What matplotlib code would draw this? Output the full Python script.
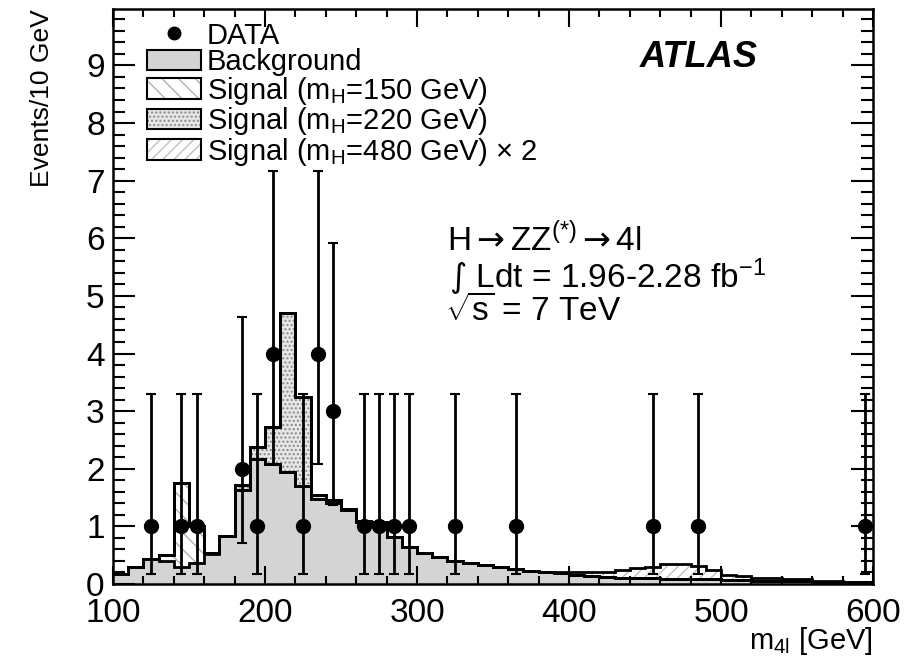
import numpy as np
import matplotlib
matplotlib.use("Agg")
import matplotlib.pyplot as plt
from matplotlib.lines import Line2D
from matplotlib.patches import Patch
from matplotlib.legend_handler import HandlerTuple
from matplotlib.ticker import MultipleLocator

plt.rcParams['font.family'] = ['Liberation Sans', 'DejaVu Sans']
plt.rcParams['mathtext.fontset'] = 'custom'
plt.rcParams['mathtext.rm'] = 'Liberation Sans'
plt.rcParams['mathtext.it'] = 'Liberation Sans:italic'
plt.rcParams['mathtext.bf'] = 'Liberation Sans:bold'
plt.rcParams['mathtext.sf'] = 'DejaVu Sans'
plt.rcParams['mathtext.default'] = 'regular'
plt.rcParams['hatch.linewidth'] = 1.0

# ---- data (10 GeV bins, 100-600 GeV) ----
bin_edges = np.arange(100, 610, 10)
background = [0.18, 0.30, 0.43, 0.40, 0.30, 0.36, 0.52, 0.83, 1.63, 2.17,
              2.09, 1.95, 1.70, 1.48, 1.40, 1.28, 1.08, 1.06, 0.82, 0.64,
              0.53, 0.46, 0.40, 0.37, 0.33, 0.29, 0.26, 0.23, 0.21, 0.19,
              0.16, 0.14, 0.12, 0.11, 0.10, 0.10, 0.09, 0.09, 0.08, 0.08,
              0.07, 0.07, 0.06, 0.06, 0.05, 0.05, 0.04, 0.04, 0.03, 0.03]
signal_150 = [0, 0, 0, 0.11, 1.45, 0.65, 0.02, 0, 0, 0,
              0, 0, 0, 0, 0, 0, 0, 0, 0, 0,
              0, 0, 0, 0, 0, 0, 0, 0, 0, 0,
              0, 0, 0, 0, 0, 0, 0, 0, 0, 0,
              0, 0, 0, 0, 0, 0, 0, 0, 0, 0]
signal_220 = [0, 0, 0, 0, 0, 0, 0, 0, 0.09, 0.20,
              0.63, 2.76, 1.54, 0.06, 0.05, 0.02, 0.02, 0.02, 0, 0,
              0, 0, 0, 0, 0, 0, 0, 0, 0, 0,
              0, 0, 0, 0, 0, 0, 0, 0, 0, 0,
              0, 0, 0, 0, 0, 0, 0, 0, 0, 0]
signal_480x2 = [0, 0, 0, 0, 0, 0, 0, 0, 0, 0,
                0, 0, 0, 0, 0, 0, 0, 0, 0, 0,
                0, 0, 0, 0, 0, 0, 0, 0, 0, 0.01,
                0.04, 0.06, 0.09, 0.13, 0.17, 0.20, 0.25, 0.25, 0.23, 0.16,
                0.09, 0.06, 0.05, 0.04, 0.04, 0.03, 0.02, 0.01, 0.01, 0.0]

data_x = [125, 145, 155, 185, 195, 205, 225, 235, 245, 265, 275, 285, 295,
          325, 365, 455, 485, 595]
data_y = [1, 1, 1, 2, 1, 4, 1, 4, 3, 1, 1, 1, 1, 1, 1, 1, 1, 1]
err_lo = [0.83, 0.83, 0.83, 1.29, 0.83, 1.91, 0.83, 1.91, 1.63, 0.83, 0.83,
          0.83, 0.83, 0.83, 0.83, 0.83, 0.83, 0.83]
err_hi = [2.30, 2.30, 2.30, 2.64, 2.30, 3.16, 2.30, 3.16, 2.92, 2.30, 2.30,
          2.30, 2.30, 2.30, 2.30, 2.30, 2.30, 2.30]

legend_labels = ["DATA", "Background",
                 "Signal (m$_\\mathregular{H}$=150 GeV)",
                 "Signal (m$_\\mathregular{H}$=220 GeV)",
                 "Signal (m$_\\mathregular{H}$=480 GeV) \u00d7 2"]

# ---- figure ----
fig = plt.figure(figsize=(9.19, 6.56), dpi=100)
ax = fig.add_axes([0.123, 0.1098, 0.827, 0.8765])

bg = np.array(background)
s150 = np.array(signal_150)
s220 = np.array(signal_220)
s480 = np.array(signal_480x2)

lvl0 = np.zeros_like(bg)
lvl1 = bg
lvl2 = lvl1 + s150
lvl3 = lvl2 + s220
lvl4 = lvl3 + s480

gray = '#d4d4d4'
styles = [
    dict(facecolor=gray, edgecolor='none'),
    dict(facecolor='white', edgecolor='#b0b0b0', hatch='\\\\'),
    dict(facecolor='#e6e6e6', edgecolor='#8a8a8a', hatch='....'),
    dict(facecolor='white', edgecolor='#c0c0c0', hatch='///'),
]
levels = [lvl0, lvl1, lvl2, lvl3, lvl4]
for i, st in enumerate(styles):
    ax.stairs(levels[i + 1], bin_edges, baseline=levels[i], fill=True,
              linewidth=0, **st)

for lv in levels[1:]:
    ax.stairs(lv, bin_edges, baseline=None, color='black', linewidth=2.0)

ax.errorbar(data_x, data_y, yerr=[err_lo, err_hi], fmt='o', color='black',
            markersize=10, elinewidth=2, capsize=3.5, capthick=1.5,
            clip_on=False, zorder=5)

ax.set_xlim(100, 600)
ax.set_ylim(0, 9.98)
ax.xaxis.set_major_locator(MultipleLocator(100))
ax.xaxis.set_minor_locator(MultipleLocator(20))
ax.yaxis.set_major_locator(MultipleLocator(1))
ax.yaxis.set_minor_locator(MultipleLocator(0.2))
ax.tick_params(which='both', direction='in', top=True, right=True,
               width=1.5, labelsize=24)
ax.tick_params(axis='x', which='major', length=13, pad=10)
ax.tick_params(axis='x', which='minor', length=6)
ax.tick_params(axis='y', which='major', length=16, pad=6)
ax.tick_params(axis='y', which='minor', length=8.5)
for sp in ax.spines.values():
    sp.set_linewidth(1.8)

ax.set_ylabel("Events/10 GeV", fontsize=19, loc='top', labelpad=23)
ax.set_xlabel("m$_{4l}$ [GeV]", fontsize=21, loc='right', labelpad=-3)

ax.text(0.693, 0.899, "ATLAS", transform=ax.transAxes, fontsize=26,
        fontweight='bold', fontstyle='italic', va='baseline')
ax.text(0.439, 0.579, "H$\\mathsf{\\rightarrow}$ZZ$^{(*)}$$\\mathsf{\\rightarrow}$4l",
        transform=ax.transAxes, fontsize=24, va='baseline')
ax.text(0.442, 0.515, "$\\mathsf{\\int}$ Ldt = 1.96-2.28 fb$^{-1}$",
        transform=ax.transAxes, fontsize=24, va='baseline')
ax.text(0.437, 0.457, "$\\sqrt{s}$ = 7 TeV", transform=ax.transAxes,
        fontsize=24, va='baseline')

outline = dict(facecolor='none', edgecolor='black', linewidth=1.5)
handles = [
    Line2D([], [], marker='o', color='black', linestyle='none', markersize=9),
    Patch(facecolor=gray, edgecolor='black', linewidth=1.5),
    (Patch(facecolor='white', edgecolor='#b0b0b0', hatch='\\\\', linewidth=0),
     Patch(**outline)),
    (Patch(facecolor='#e6e6e6', edgecolor='#8a8a8a', hatch='....', linewidth=0),
     Patch(**outline)),
    (Patch(facecolor='white', edgecolor='#c0c0c0', hatch='///', linewidth=0),
     Patch(**outline)),
]
leg = ax.legend(handles, legend_labels, loc='upper left',
                bbox_to_anchor=(0.045, 0.978), frameon=False, fontsize=21,
                handlelength=1.85, handleheight=0.7, handletextpad=0.2,
                labelspacing=-0.05, borderpad=0, borderaxespad=0,
                handler_map={tuple: HandlerTuple(ndivide=1, pad=0)})

fig.savefig("out.png", dpi=100)
